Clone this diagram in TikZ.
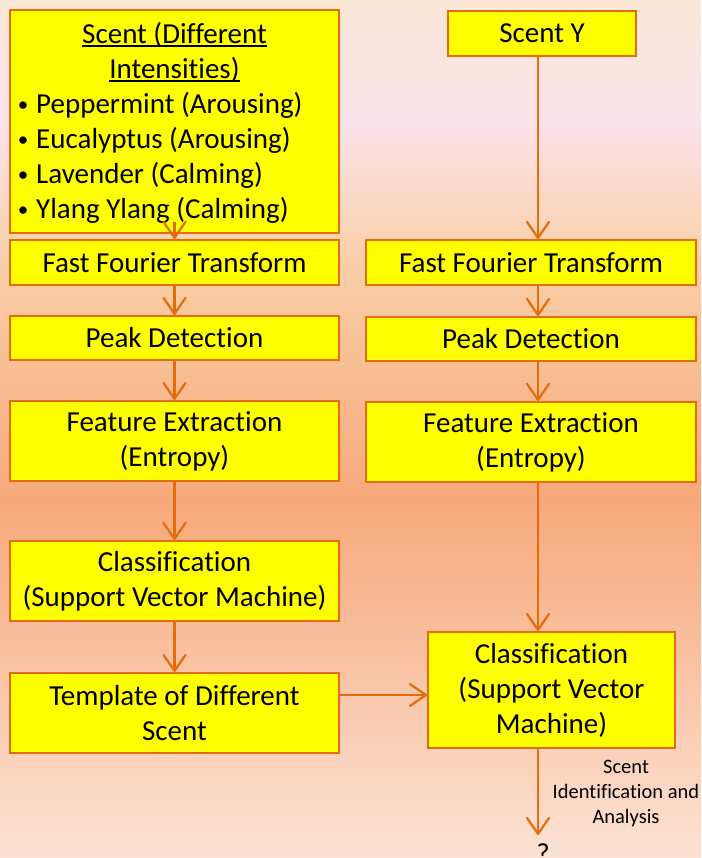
\documentclass[tikz,border=0pt]{standalone}
\usepackage{fontspec}
\setmainfont{Carlito}[Ligatures={NoCommon,NoRare,NoContextual}]
\usetikzlibrary{arrows.meta}

\definecolor{boxfill}{RGB}{255,255,0}
\definecolor{edge}{RGB}{228,108,10}
\definecolor{bgA}{RGB}{250,231,213}
\definecolor{bgB}{RGB}{251,227,236}
\definecolor{bgC}{RGB}{249,207,168}
\definecolor{bgD}{RGB}{247,168,122}
\definecolor{bgE}{RGB}{251,226,212}

\newcommand\mainsz{\fontsize{29}{35}\selectfont}
\newcommand\smallsz{\fontsize{20.5}{25}\selectfont}
% underline sitting just under the baseline, independent of descenders
\newcommand\undl[1]{\setbox0\hbox{#1}\rlap{\rule[-2.6pt]{\wd0}{1.6pt}}#1}
% list bullet: a small dot in a fixed-width slot
\newcommand\itembul{\makebox[26pt][c]{\fontsize{21}{21}\selectfont\raisebox{2.6pt}{•}}}

\begin{document}
\begin{tikzpicture}[x=1pt,y=-1pt,
  box/.style={draw=edge, fill=boxfill, line width=2pt, inner sep=0pt,
              align=center, font=\mainsz},
  txt/.style={inner sep=0pt, font=\mainsz},
  arr/.style={draw=edge, line width=2.2pt,
              -{Straight Barb[length=16pt,width=22pt,round]}}]

% background gradient
\useasboundingbox (0,0) rectangle (701,858);
\shade[top color=bgA, bottom color=bgB] (0,0) rectangle (701,121);
\shade[top color=bgB, bottom color=bgC] (0,120) rectangle (701,261);
\shade[top color=bgC, bottom color=bgD] (0,260) rectangle (701,501);
\shade[top color=bgD, bottom color=bgE] (0,500) rectangle (701,858);

% column guides
\coordinate (colR) at (538,0);
\coordinate (rowH) at (0,695);

% left column
\node[box, minimum width=329pt, minimum height=223pt] (b1) at (174.5,121.5) {};
\node[txt, anchor=base] (t1) at (174.5,44) {\undl{Scent (Different}};
\node[txt, anchor=base] (t2) at (174.5,79) {\undl{Intensities)}};
\node[txt, anchor=base west] (t3) at (10,114) {\itembul Peppermint (Arousing)};
\node[txt, anchor=base west] (t4) at (10,149) {\itembul Eucalyptus (Arousing)};
\node[txt, anchor=base west] (t5) at (10,184) {\itembul Lavender (Calming)};
\node[txt, anchor=base west] (t6) at (10,219) {\itembul Ylang Ylang (Calming)};

\node[box, minimum width=329pt, minimum height=45pt] (fftL) at (174.5,262.5) {Fast Fourier Transform};
\node[box, minimum width=329pt, minimum height=44pt] (pkL) at (174.5,338) {Peak Detection};
\node[box, minimum width=329pt, minimum height=80pt] (feL) at (174.5,441) {Feature Extraction\\(Entropy)};
\node[box, minimum width=329pt, minimum height=80pt] (clL) at (174.5,581) {Classification\\(Support Vector Machine)};
\node[box, minimum width=329pt, minimum height=80pt] (tpl) at (174.5,713) {Template of Different\\Scent};

% right column
\node[box, minimum width=188pt, minimum height=45pt] (sy) at (542,33.5) {Scent Y};
\node[box, minimum width=330pt, minimum height=45pt] (fftR) at (531,262.5) {Fast Fourier Transform};
\node[box, minimum width=330pt, minimum height=44pt] (pkR) at (531,339) {Peak Detection};
\node[box, minimum width=330pt, minimum height=80pt] (feR) at (531,442) {Feature Extraction\\(Entropy)};
\node[box, minimum width=247pt, minimum height=116pt] (clR) at (551.5,690) {Classification\\(Support Vector\\Machine)};

% output
\coordinate (outEnd) at (538,835);
\node[inner sep=0pt, font=\mainsz, anchor=base] (qm) at (543,863) {?};
\node[inner sep=0pt, font=\smallsz, align=center] (lbl) at (626,793) {Scent\\Identification and\\Analysis};

% connectors, left
\draw[arr] ([yshift=12pt]b1.south) -- (fftL.north);
\draw[arr] (fftL.south) -- (pkL.north);
\draw[arr] (pkL.south) -- (feL.north);
\draw[arr] (feL.south) -- (clL.north);
\draw[arr] (clL.south) -- (tpl.north);

% connectors, right
\draw[arr] (sy.south -| colR) -- (fftR.north -| colR);
\draw[arr] (fftR.south -| colR) -- (pkR.north -| colR);
\draw[arr] (pkR.south -| colR) -- (feR.north -| colR);
\draw[arr] (feR.south -| colR) -- (clR.north -| colR);
\draw[arr] (tpl.east |- rowH) -- (clR.west |- rowH);
\draw[arr] (clR.south -| colR) -- (outEnd);
\end{tikzpicture}
\end{document}
